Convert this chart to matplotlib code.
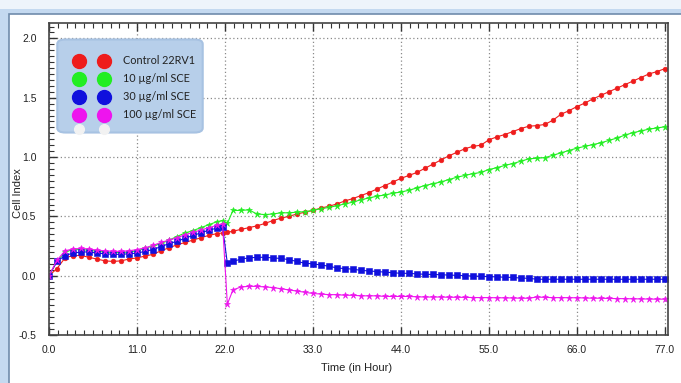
import matplotlib
matplotlib.use("Agg")
import matplotlib.pyplot as plt
from matplotlib.patches import Rectangle, FancyBboxPatch
from matplotlib.ticker import MultipleLocator, FormatStrFormatter
from matplotlib.lines import Line2D
from matplotlib import font_manager

time_h = [0, 1, 2, 3, 4, 5, 6, 7, 8, 9, 10, 11, 12, 13, 14, 15, 16, 17, 18, 19, 20, 21, 21.7,
          22.3, 23, 24, 25, 26, 27, 28, 29, 30, 31, 32, 33, 34, 35, 36, 37, 38, 39, 40,
          41, 42, 43, 44, 45, 46, 47, 48, 49, 50, 51, 52, 53, 54, 55, 56, 57, 58, 59, 60,
          61, 62, 63, 64, 65, 66, 67, 68, 69, 70, 71, 72, 73, 74, 75, 76, 77]

control = [0.00, 0.06, 0.15, 0.17, 0.17, 0.155, 0.14, 0.125, 0.12, 0.125, 0.14, 0.15, 0.165, 0.18,
           0.21, 0.235, 0.26, 0.28, 0.30, 0.32, 0.34, 0.355, 0.36,
           0.365, 0.375, 0.39, 0.405, 0.42, 0.44, 0.465, 0.485, 0.50, 0.52, 0.535, 0.55, 0.57,
           0.585, 0.605, 0.63, 0.65, 0.675, 0.70, 0.73, 0.76, 0.79, 0.82, 0.845, 0.87, 0.905,
           0.94, 0.975, 1.01, 1.04, 1.07, 1.09, 1.10, 1.145, 1.17, 1.19, 1.215, 1.24, 1.26,
           1.265, 1.275, 1.31, 1.36, 1.39, 1.425, 1.455, 1.49, 1.52, 1.55, 1.58, 1.61, 1.64,
           1.67, 1.70, 1.72, 1.745]

sce_10 = [0.00, 0.12, 0.20, 0.22, 0.22, 0.215, 0.205, 0.20, 0.195, 0.195, 0.20, 0.21, 0.23, 0.25,
          0.27, 0.30, 0.33, 0.36, 0.38, 0.405, 0.43, 0.455, 0.465,
          0.44, 0.55, 0.55, 0.555, 0.52, 0.515, 0.52, 0.53, 0.53, 0.535, 0.54, 0.55, 0.565,
          0.575, 0.59, 0.605, 0.62, 0.64, 0.655, 0.67, 0.68, 0.695, 0.705, 0.72, 0.74, 0.76,
          0.775, 0.79, 0.81, 0.83, 0.845, 0.86, 0.87, 0.895, 0.91, 0.93, 0.945, 0.965, 0.985,
          0.99, 0.995, 1.015, 1.035, 1.055, 1.075, 1.09, 1.105, 1.12, 1.14, 1.16, 1.185, 1.205,
          1.22, 1.235, 1.245, 1.255]

sce_30 = [0.00, 0.12, 0.17, 0.19, 0.20, 0.20, 0.19, 0.185, 0.18, 0.18, 0.185, 0.19, 0.205, 0.22,
          0.245, 0.27, 0.29, 0.315, 0.34, 0.36, 0.385, 0.40, 0.41,
          0.105, 0.12, 0.14, 0.15, 0.155, 0.155, 0.15, 0.145, 0.135, 0.12, 0.105, 0.10, 0.09,
          0.08, 0.065, 0.06, 0.055, 0.045, 0.04, 0.035, 0.03, 0.025, 0.02, 0.02, 0.015, 0.012,
          0.01, 0.008, 0.005, 0.003, 0.0, -0.003, -0.005, -0.008, -0.01, -0.013, -0.015, -0.02,
          -0.022, -0.03, -0.03, -0.03, -0.03, -0.03, -0.03, -0.03, -0.03, -0.03, -0.03, -0.03,
          -0.03, -0.03, -0.03, -0.03, -0.03, -0.03]

sce_100 = [0.00, 0.13, 0.21, 0.225, 0.23, 0.225, 0.215, 0.21, 0.205, 0.205, 0.21, 0.22, 0.235, 0.255,
           0.28, 0.30, 0.32, 0.345, 0.365, 0.385, 0.405, 0.425, 0.435,
           -0.24, -0.12, -0.095, -0.09, -0.09, -0.095, -0.10, -0.11, -0.12, -0.13, -0.14, -0.15,
           -0.155, -0.16, -0.16, -0.165, -0.165, -0.17, -0.17, -0.17, -0.175, -0.175, -0.175,
           -0.175, -0.178, -0.18, -0.18, -0.18, -0.182, -0.182, -0.183, -0.184, -0.185, -0.185,
           -0.186, -0.187, -0.188, -0.19, -0.19, -0.18, -0.183, -0.185, -0.185, -0.186, -0.186,
           -0.188, -0.19, -0.19, -0.192, -0.193, -0.194, -0.195, -0.196, -0.197, -0.198, -0.198]

labels = ["Control 22RV1", "10 \u00b5g/ml SCE", "30 \u00b5g/ml SCE", "100 \u00b5g/ml SCE"]
colors = ["#ee1c1c", "#22ee22", "#1010dd", "#ee14ee"]
markers = ["o", "*", "s", "*"]
msizes = [3.4, 5.0, 4.2, 4.6]

available = {f.name for f in font_manager.fontManager.ttflist}
tick_font = "Liberation Sans Narrow" if "Liberation Sans Narrow" in available else "Liberation Sans"

fig = plt.figure(figsize=(6.81, 3.83), dpi=100)
fig.patch.set_facecolor("#c4d9f0")
fig.add_artist(Rectangle((0, 1 - 9 / 383), 1, 9 / 383, transform=fig.transFigure,
                         facecolor="#eef4fb", edgecolor="none", zorder=0))
fig.add_artist(Rectangle((9 / 681, -0.01), 1, 1.01 - 14 / 383, transform=fig.transFigure,
                         facecolor="white", edgecolor="#6f8bab", linewidth=1.2, zorder=0))

ax = fig.add_axes([49 / 681, 1 - 335 / 383, (668 - 49) / 681, (335 - 23) / 383])
ax.set_facecolor("white")

series = [control, sce_10, sce_30, sce_100]
for vals, c, m, ms in zip(series, colors, markers, msizes):
    ax.plot(time_h, vals, color=c, marker=m, markersize=ms, linewidth=0.8,
            markeredgewidth=0.4)

ax.set_xlim(0, 77.4)
ax.set_ylim(-0.5, 2.13)
ax.xaxis.set_major_locator(MultipleLocator(11))
ax.xaxis.set_minor_locator(MultipleLocator(1.1))
ax.yaxis.set_major_locator(MultipleLocator(0.5))
ax.yaxis.set_minor_locator(MultipleLocator(0.05))
ax.xaxis.set_major_formatter(FormatStrFormatter("%.1f"))
ax.yaxis.set_major_formatter(FormatStrFormatter("%.1f"))
ax.tick_params(which="both", direction="in", top=True, right=False, labelsize=7.5,
               colors="#333333", labelcolor="#222222")
ax.tick_params(which="major", length=6, width=1.0)
ax.tick_params(which="minor", length=3.5, width=0.8)
ax.tick_params(axis="x", pad=7)
ax.tick_params(axis="y", pad=9)
for lab in ax.get_xticklabels() + ax.get_yticklabels():
    lab.set_fontfamily(tick_font)
ax.grid(True, which="major", linestyle=(0, (1, 2)), color="#8a8a8a", linewidth=0.9)
for s in ax.spines.values():
    s.set_color("#444444")
    s.set_linewidth(1.2)

fig.text(357 / 681, 1 - 368 / 383, "Time (in Hour)", fontsize=8, family=tick_font,
         ha="center", va="center", color="#222222")
fig.text(18 / 681, 1 - 193 / 383, "Cell Index", fontsize=8, family=tick_font,
         ha="center", va="center", rotation=90, color="#222222")

leg_box = FancyBboxPatch((60 / 681, 1 - 131 / 383), 140 / 681, 90 / 383,
                         boxstyle="round,pad=0.004,rounding_size=0.012",
                         transform=fig.transFigure, facecolor="#b7cfea",
                         edgecolor="#a7c2e2", linewidth=1.5, zorder=5)
fig.add_artist(leg_box)
rows_y = [61, 79, 97, 115]
for yy, c, lab in zip(rows_y, colors, labels):
    for xx in (79, 104):
        fig.add_artist(Line2D([xx / 681], [1 - yy / 383], transform=fig.transFigure,
                              marker="o", markersize=10, color=c, markeredgecolor=c,
                              linestyle="none", zorder=6))
    fig.text(123 / 681, 1 - yy / 383, lab, fontsize=7.8, family="Lato",
             va="center", ha="left", color="#222222", zorder=7)
for xx in (79, 104):
    fig.add_artist(Line2D([xx / 681], [1 - 129 / 383], transform=fig.transFigure,
                          marker="o", markersize=7, color="#f2f2f2", markeredgecolor="#f2f2f2",
                          linestyle="none", zorder=6))

fig.savefig("out.png", dpi=100, facecolor=fig.get_facecolor())
